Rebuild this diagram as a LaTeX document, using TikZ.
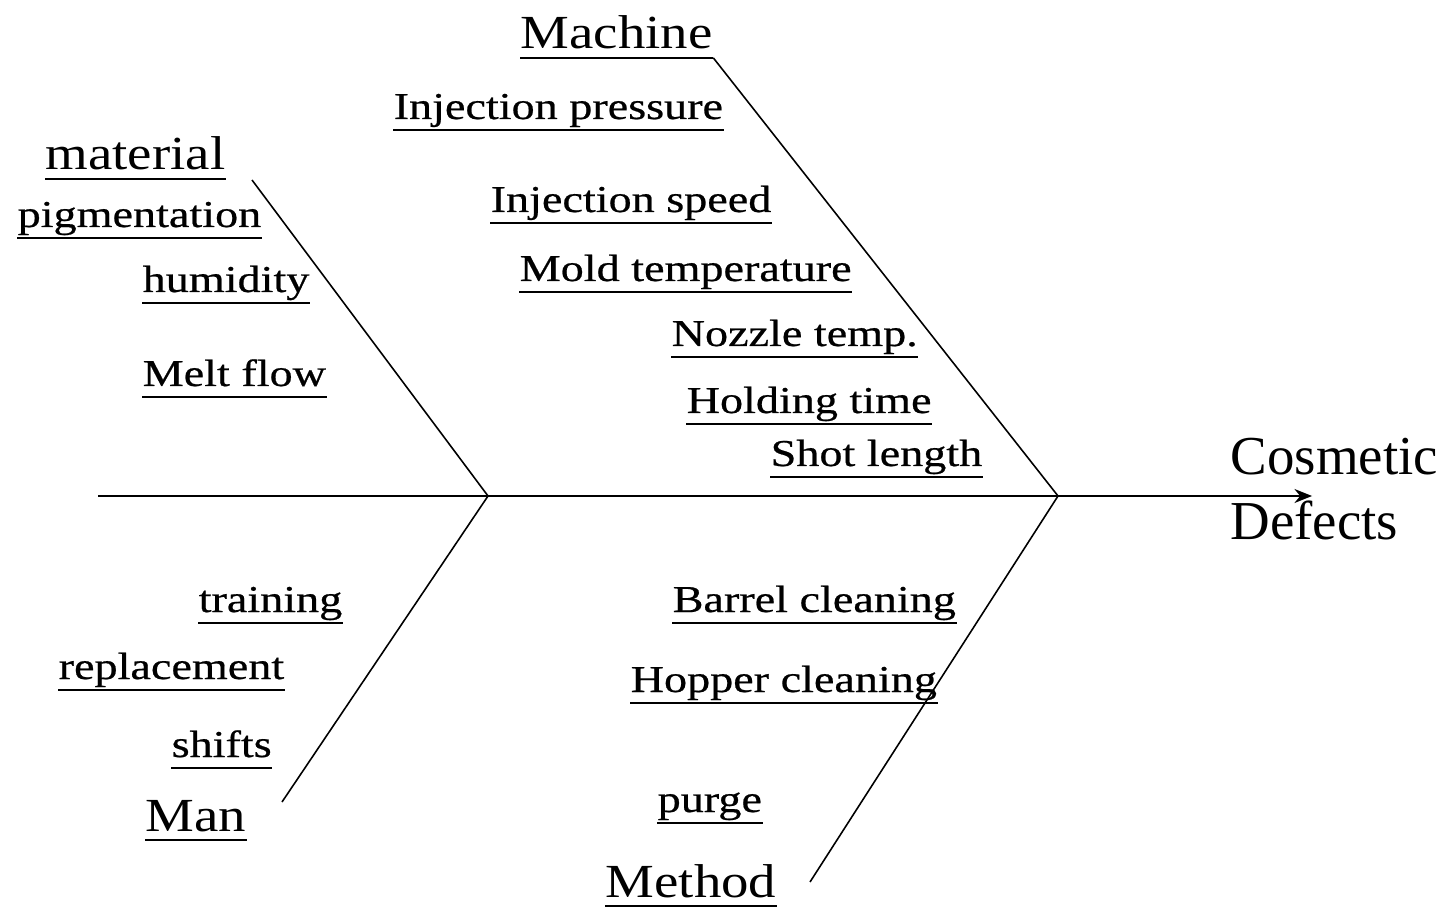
\documentclass[tikz,border=0pt]{standalone}
\usepackage{fontspec}
\usetikzlibrary{arrows.meta}
\setmainfont{Liberation Serif}
\newfontfamily\causefont{Liberation Serif}[FakeStretch=1.215,FakeBold=0.6]
\newfontfamily\catfont{Liberation Serif}[FakeStretch=1.155]

\tikzset{
  cause/.style={anchor=base west, inner sep=0pt, text depth=2.9pt,
    font=\causefont\fontsize{10.8}{13}\selectfont,
    append after command={(\tikzlastnode.south west) edge[line width=0.6pt] (\tikzlastnode.south east)}},
  cat/.style={cause, text depth=2.3pt, font=\catfont\fontsize{13.5}{16}\selectfont},
  effect/.style={anchor=base west, inner sep=0pt, font=\fontsize{15.6}{18}\selectfont},
  bone/.style={line width=0.45pt}
}

\begin{document}
\begin{tikzpicture}[x=0.01cm,y=-0.01cm]
\useasboundingbox (0,0) rectangle (1443,907);

% spine
\coordinate (tail) at (98,496);
\coordinate (head) at (1312,496);
\coordinate (j1) at (488,496);
\coordinate (j2) at (1058,496);
\draw[bone,-{Stealth[length=5pt,width=4pt]}] (tail) -- (head);

\node[effect] (cosm) at (1230,475) {Cosmetic};
\node[effect] (defe) at (1230,539) {Defects};

% material
\node[cat] (material) at (45,170) {material};
\node[cause] (pigm) at (17,227) {pigmentation};
\node[cause] (humid) at (142,292) {humidity};
\node[cause] (melt) at (142,386) {Melt flow};
\coordinate (mat) at (252,180);
\draw[bone] (mat) -- (j1);

% man
\node[cause] (train) at (198,612) {training};
\node[cause] (repl) at (58,679) {replacement};
\node[cause] (shift) at (171,757) {shifts};
\node[cat] (man) at (145,831) {Man};
\coordinate (mn) at (282,802);
\draw[bone] (mn) -- (j1);

% machine
\node[cat] (machine) at (520,49) {Machine};
\node[cause] (injp) at (393,119) {Injection pressure};
\node[cause] (injs) at (490,212) {Injection speed};
\node[cause] (mold) at (519,281) {Mold temperature};
\node[cause] (nozz) at (671,346) {Nozzle temp.};
\node[cause] (hold) at (686,413) {Holding time};
\node[cause] (shot) at (770,466) {Shot length};
\draw[bone] (machine.south east) -- (j2);

% method
\node[cause] (barrel) at (672,612) {Barrel cleaning};
\node[cause] (hopper) at (630,692) {Hopper cleaning};
\node[cause] (purge) at (657,812) {purge};
\node[cat] (method) at (605,897) {Method};
\coordinate (mt) at (810,882);
\draw[bone] (mt) -- (j2);

\end{tikzpicture}
\end{document}
